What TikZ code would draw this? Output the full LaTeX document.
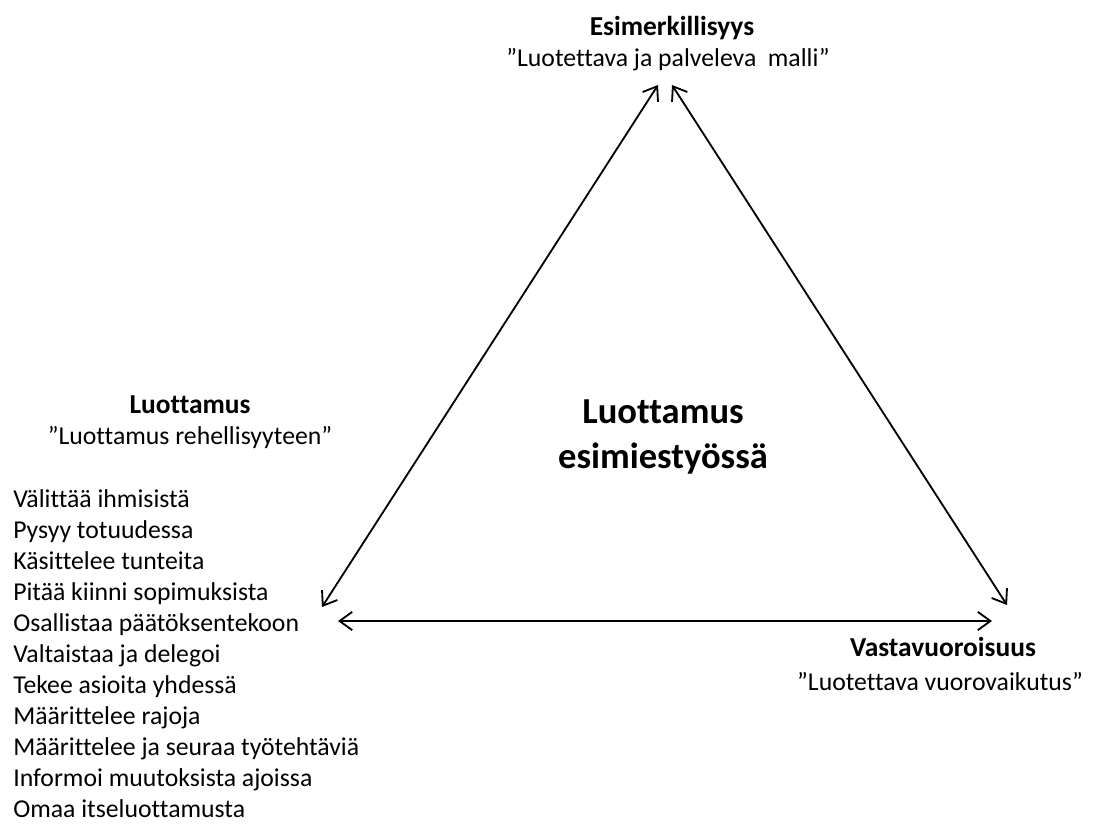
\documentclass[tikz,border=0pt]{standalone}
\usepackage{fontspec}
\setmainfont{Carlito}[RawFeature={-liga;-clig;-calt}]
\usetikzlibrary{arrows.meta}

\begin{document}
\begin{tikzpicture}[x=0.025cm,y=-0.025cm,>={Straight Barb[length=9pt,width=13pt]},
        every node/.style={font=\fontsize{18.3}{22}\selectfont},
        otsikko/.style={font=\fontsize{19.5}{22}\selectfont\bfseries}]
        \useasboundingbox (0,0) rectangle (1097,823);
        % kulmat
        \node[otsikko] (esim) at (672,28) {Esimerkillisyys};
        \node (esimq) at (668,60) {”Luotettava ja palveleva\ \ malli”};
        \node[otsikko] (luot) at (190,405) {Luottamus};
        \node (luotq) at (190,437) {”Luottamus rehellisyyteen”};
        \node[otsikko] (vast) at (943,647) {Vastavuoroisuus};
        \node (vastq) at (940,682) {”Luotettava vuorovaikutus”};
        \node[align=center,font=\fontsize{26}{32}\selectfont\bfseries] (keski) at (663,437) {Luottamus\\esimiestyössä};
        \foreach \t [count=\i from 0] in {Välittää ihmisistä, Pysyy totuudessa, Käsittelee tunteita,
                Pitää kiinni sopimuksista, Osallistaa päätöksentekoon, Valtaistaa ja delegoi,
                Tekee asioita yhdessä, Määrittelee rajoja, Määrittelee ja seuraa työtehtäviä,
                Informoi muutoksista ajoissa, Omaa itseluottamusta}
            \node[anchor=base west,inner sep=0pt] (rivi\i) at (13,507+31*\i) {\t};
        % nuolet
        \coordinate (t1) at (658,85); \coordinate (t2) at (672,85);
        \coordinate (l1) at (322,607); \coordinate (l2) at (338,621);
        \coordinate (r1) at (1007,605); \coordinate (r2) at (992,621);
        \draw[<->,line width=1.3pt] (t1) -- (l1);
        \draw[<->,line width=1.3pt] (t2) -- (r1);
        \draw[<->,line width=1.3pt] (l2) -- (r2);
    \end{tikzpicture}
\end{document}
